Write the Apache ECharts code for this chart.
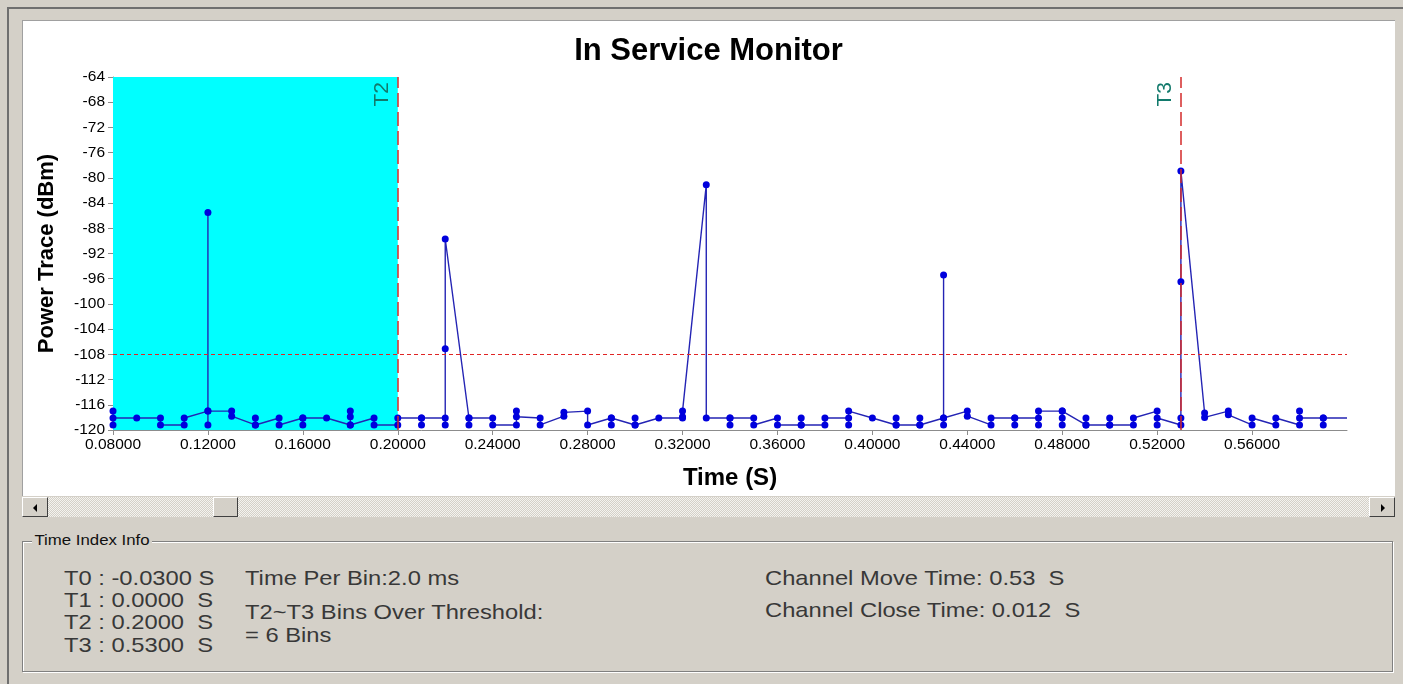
<!DOCTYPE html>
<html>
<head>
<meta charset="utf-8">
<script src="https://cdn.jsdelivr.net/npm/echarts@6/dist/echarts.min.js"></script>
<style>
  html, body { margin: 0; padding: 0; }
  body {
    width: 1403px; height: 684px; overflow: hidden; position: relative;
    background: #d4d0c8; font-family: "Liberation Sans", Arial, sans-serif;
  }
  .frame { position: absolute; left: 7px; top: 7px; right: 0; bottom: 0;
    border-left: 2px solid #6f6f6f; border-top: 2px solid #6f6f6f; }
  .panel { position: absolute; left: 22px; top: 20px; width: 1373px; height: 476px;
    background: #fff; border-top: 1px solid #a0a0a0; border-left: 1px solid #a0a0a0; box-sizing: border-box; }
  #chart { position: absolute; left: 22px; top: 20px; width: 1373px; height: 476px; }
  .scroll { position: absolute; left: 22px; top: 497px; width: 1373px; height: 20px;
    background-color: #d4d0c8;
    background-image: repeating-conic-gradient(#f4f3ef 0 25%, #d4d0c8 0 50%);
    background-size: 2px 2px; }
  .btn { position: absolute; top: 0; width: 26px; height: 20px; box-sizing: border-box;
    background: #d4d0c8; border: 1px solid; border-color: #fff #404040 #404040 #fff; }
  .tri-l { position: absolute; left: 10px; top: 6px; width: 0; height: 0;
    border-top: 4px solid transparent; border-bottom: 4px solid transparent; border-right: 4px solid #000; }
  .tri-r { position: absolute; left: 11px; top: 6px; width: 0; height: 0;
    border-top: 4px solid transparent; border-bottom: 4px solid transparent; border-left: 4px solid #000; }
  .group { position: absolute; left: 22px; top: 541px; width: 1371px; height: 131px; box-sizing: border-box;
    border: 1px solid #808080; box-shadow: 1px 1px 0 #fff, inset 1px 1px 0 #fff; }
  .legend { position: absolute; left: 32px; top: 532px; font-size: 14px; line-height: 17px;
    background: #d4d0c8; padding: 0 2px; color: #111; transform: scaleX(1.2); transform-origin: left center; }
  .t { position: absolute; font-size: 21px; line-height: 21px; color: #383838; white-space: pre;
    transform: scaleX(1.13); transform-origin: left top; }
</style>
</head>
<body>
<div class="frame"></div>
<div class="panel"></div>
<div id="chart"></div>
<div class="scroll">
  <div class="btn" style="left:0"><div class="tri-l"></div></div>
  <div class="btn" style="left:191px;width:25px"></div>
  <div class="btn" style="left:1347px"><div class="tri-r"></div></div>
</div>
<div class="group"></div>
<div class="legend">Time Index Info</div>
<div class="t" style="left:64px;top:567px">T0 : -0.0300 S</div>
<div class="t" style="left:64px;top:589px">T1 : 0.0000  S</div>
<div class="t" style="left:64px;top:611px">T2 : 0.2000  S</div>
<div class="t" style="left:64px;top:634px">T3 : 0.5300  S</div>
<div class="t" style="left:245px;top:567px">Time Per Bin:2.0 ms</div>
<div class="t" style="left:245px;top:601px">T2~T3 Bins Over Threshold:</div>
<div class="t" style="left:245px;top:624px">= 6 Bins</div>
<div class="t" style="left:765px;top:567px">Channel Move Time: 0.53  S</div>
<div class="t" style="left:765px;top:599px">Channel Close Time: 0.012  S</div>

<script>
// time of each display column (s)
var times = [0.08, 0.09, 0.10, 0.11, 0.12, 0.13, 0.14, 0.15, 0.16, 0.17,
  0.18, 0.19, 0.20, 0.21, 0.22, 0.23, 0.24, 0.25, 0.26, 0.27,
  0.28, 0.29, 0.30, 0.31, 0.32, 0.33, 0.34, 0.35, 0.36, 0.37,
  0.38, 0.39, 0.40, 0.41, 0.42, 0.43, 0.44, 0.45, 0.46, 0.47,
  0.48, 0.49, 0.50, 0.51, 0.52, 0.53, 0.54, 0.55, 0.56, 0.57,
  0.58, 0.59, 0.60];
// power samples (dBm) in each column, in drawing order
var samples = [
  [-117.0, -119.2, -118.1], [-118.1], [-118.1, -119.2], [-119.2, -118.1],
  [-117.0, -119.2, -85.5, -117.0], [-117.0, -117.8], [-119.2, -118.1, -119.2], [-118.1, -119.2],
  [-118.1, -119.2, -118.1], [-118.1], [-119.2, -117.0, -117.9, -119.2], [-118.1, -119.2],
  [-119.2, -118.1], [-118.1, -119.2, -118.1], [-118.1, -119.2, -107.1, -89.7], [-118.1, -119.2, -118.1],
  [-118.1, -119.2], [-119.2, -117.0, -117.9], [-118.1, -119.2], [-117.8, -117.2],
  [-117.0, -119.2], [-118.1, -119.2, -118.1], [-119.2, -118.1, -119.2], [-118.1],
  [-118.1, -117.9, -117.0], [-81.1, -118.1], [-118.1, -119.2, -118.1], [-118.1, -119.2],
  [-118.1, -119.2], [-119.2, -118.1, -119.2], [-119.2, -118.1], [-118.1, -119.2, -117.0],
  [-118.1], [-119.2, -118.1, -119.2], [-119.2, -118.1, -119.2], [-118.1, -119.2, -95.4, -118.1],
  [-117.0, -117.8], [-119.2, -118.1], [-118.1, -119.2, -118.1], [-118.1, -119.2, -117.0],
  [-117.0, -118.1, -119.2, -117.0], [-119.2, -118.1, -119.2], [-119.2, -118.1, -119.2], [-119.2, -118.1],
  [-117.0, -119.2, -118.1], [-119.2, -118.1, -96.5, -78.9], [-117.3, -118.0], [-117.0, -117.6],
  [-119.2, -118.1], [-119.2, -118.1], [-119.2, -117.0, -118.1], [-118.1, -119.2, -118.1],
  [-118.1]
];
var threshold = -108;
var markers = [{ name: "T2", time: 0.20 }, { name: "T3", time: 0.53 }];
var shadeRange = [0.08, 0.20];

var traceData = [];
times.forEach(function (t, i) {
  samples[i].forEach(function (v) {
    if (i === times.length - 1) {
      traceData.push({ value: [t, v], symbol: "none" });
    } else {
      traceData.push([t, v]);
    }
  });
});

var myChart = echarts.init(document.getElementById("chart"));
var font = '"Liberation Sans", Arial, sans-serif';
var option = {
  animation: false,
  title: {
    text: "In Service Monitor",
    left: "center",
    top: 11,
    textStyle: { fontSize: 31, fontWeight: "bold", color: "#000", fontFamily: font },
  },
  grid: { left: 91, right: 48, top: 57, bottom: 66 },
  xAxis: {
    type: "value",
    min: 0.08,
    max: 0.6,
    interval: 0.04,
    name: "Time (S)",
    nameLocation: "middle",
    nameGap: 36,
    nameTextStyle: { fontSize: 24, fontWeight: "bold", color: "#000", fontFamily: font },
    axisLine: { lineStyle: { color: "#8c8c8c" } },
    axisTick: { length: 5, lineStyle: { color: "#8c8c8c" } },
    axisLabel: {
      showMaxLabel: false,
      color: "#000",
      fontSize: 15.5,
      fontFamily: font,
      margin: 7,
      formatter: function (v) { return v.toFixed(5); },
    },
    splitLine: { show: false },
  },
  yAxis: {
    type: "value",
    min: -120,
    max: -64,
    interval: 4,
    name: "Power Trace (dBm)",
    nameLocation: "middle",
    nameGap: 55,
    nameTextStyle: { fontSize: 22, fontWeight: "bold", color: "#000", fontFamily: font },
    axisLine: { show: true, lineStyle: { color: "#8c8c8c" } },
    axisTick: { show: true, length: 5, lineStyle: { color: "#8c8c8c" } },
    axisLabel: { color: "#000", fontSize: 15.5, fontFamily: font, margin: 8 },
    splitLine: { show: false },
  },
  series: [
    {
      name: "Power Trace",
      type: "line",
      data: traceData,
      symbol: "circle",
      symbolSize: 7,
      itemStyle: { color: "#0000dd" },
      lineStyle: { color: "#2424b4", width: 1.4 },
      markArea: {
        silent: true,
        itemStyle: { color: "#00ffff", opacity: 1 },
        data: [[{ xAxis: shadeRange[0] }, { xAxis: shadeRange[1] }]],
      },
      markLine: {
        silent: true,
        symbol: ["none", "none"],
        data: markers.map(function (m) {
          return {
            name: m.name,
            xAxis: m.time,
            lineStyle: { color: "#d42a2a", type: [14, 5], width: 1.5 },
            label: {
              show: true,
              formatter: "{b}",
              position: "insideEndTop",
              color: "#127a6c",
              fontSize: 21,
              fontFamily: font,
            },
          };
        }).concat([{
          yAxis: threshold,
          lineStyle: { color: "#e02424", type: [4, 3], width: 1 },
          label: { show: false },
        }]),
      },
    },
  ],
};
myChart.setOption(option);
</script>
</body>
</html>
